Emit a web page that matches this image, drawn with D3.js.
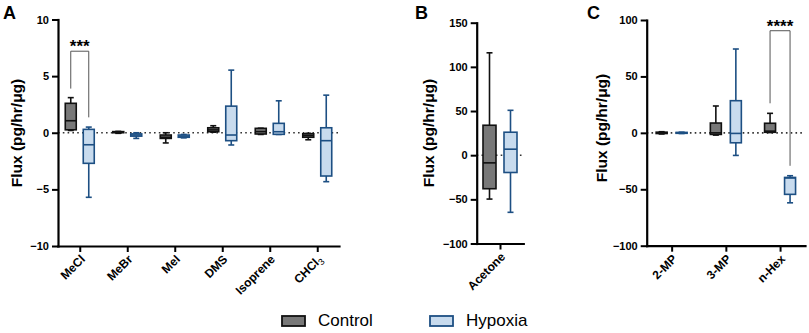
<!DOCTYPE html>
<html>
<head>
<meta charset="utf-8">
<script src="https://cdn.jsdelivr.net/npm/d3@7"></script>
<style>
  body { margin: 0; background: #fff; }
  text { font-family: "Liberation Sans", Arial, sans-serif; }
</style>
</head>
<body>
<svg id="chart" width="809" height="333"></svg>
<script>
// box summaries are [min, q1, median, q3, max]
const catsA = ["MeCl", "MeBr", "MeI", "DMS", "Isoprene", "CHCl3"];
const controlA = [
  [0.2, 0.26, 1.06, 2.6, 3.1],
  [-0.05, 0.0, 0.05, 0.1, 0.12],
  [-0.9, -0.5, -0.4, -0.2, 0.0],
  [0.05, 0.09, 0.25, 0.44, 0.62],
  [-0.15, -0.11, 0.1, 0.39, 0.4],
  [-0.62, -0.4, -0.25, -0.09, -0.05]
];
const hypoxiaA = [
  [-5.7, -2.7, -1.06, 0.3, 0.5],
  [-0.5, -0.3, -0.2, -0.1, 0.0],
  [-0.45, -0.4, -0.3, -0.2, -0.15],
  [-1.08, -0.7, -0.2, 2.35, 5.53],
  [-0.15, -0.14, 0.09, 0.83, 2.82],
  [-4.32, -3.82, -0.7, 0.44, 3.32]
];
const ticksA = [-10, -5, 0, 5, 10];

const catsB = ["Acetone"];
const controlB = [[-49.7, -38, -8.7, 33.9, 115.9]];
const hypoxiaB = [[-64.7, -19.6, 6.8, 26, 50.8]];
const ticksB = [-100, -50, 0, 50, 100, 150];

const catsC = ["2-MP", "3-MP", "n-Hex"];
const controlC = [
  [-1, -0.6, 0, 0.6, 1],
  [-2, -1.4, 0, 8.7, 23.8],
  [0.3, 0.5, 1.5, 8.5, 17.3]
];
const hypoxiaC = [
  [-0.6, -0.4, 0, 0.4, 0.6],
  [-20, -8.8, -0.5, 28.5, 74.3],
  [-62, -54.5, -40, -39.5, -38]
];
const ticksC = [-100, -50, 0, 50, 100];

// significance brackets: [category, control end, top, hypoxia end, label]
const bracketA = ["MeCl", 3.9, 7.2, 1.36, "***"];
const bracketC = ["n-Hex", 26.2, 90.5, -29.2, "****"];

const legendNames = ["Control", "Hypoxia"];

const colors = {
  Control: { fill: "#787878", stroke: "#111" },
  Hypoxia: { fill: "#c8dbee", stroke: "#1d4f83" }
};

const svg = d3.select("#chart");

const panels = [
  { letter: "A", letterX: 3, labelX: 22, labelY: 133, cats: catsA, control: controlA, hypoxia: hypoxiaA,
    domain: [-10, 10], ticks: ticksA, left: 58, right: 339, top: 19.5, bottom: 246, pad: 0.458,
    off: 9, w: 11, bracket: bracketA },
  { letter: "B", letterX: 415, labelX: 434, labelY: 133, cats: catsB, control: controlB, hypoxia: hypoxiaB,
    domain: [-100, 150], ticks: ticksB, left: 476.7, right: 523.3, top: 22.7, bottom: 243.5, pad: 0.5,
    off: 10.5, w: 13, bracket: null },
  { letter: "C", letterX: 587, labelX: 606.5, labelY: 128, cats: catsC, control: controlC, hypoxia: hypoxiaC,
    domain: [-100, 100], ticks: ticksC, left: 646.7, right: 805, top: 20, bottom: 245.7, pad: 0.46,
    off: 10, w: 11, bracket: bracketC }
];

panels.forEach(drawPanel);

function drawPanel(p) {
  const y = d3.scaleLinear().domain(p.domain).range([p.bottom, p.top]);
  const x = d3.scalePoint().domain(p.cats).range([p.left, p.right]).padding(p.pad);
  const g = svg.append("g");

  // dotted zero line
  g.append("line")
    .attr("x1", p.left).attr("x2", p.right - 1)
    .attr("y1", y(0)).attr("y2", y(0))
    .attr("stroke", "#333").attr("stroke-width", 1.6)
    .attr("stroke-dasharray", "1.6,3.2");

  // boxes
  const series = [
    { name: "Control", data: p.control, dx: -p.off },
    { name: "Hypoxia", data: p.hypoxia, dx: p.off }
  ];
  series.forEach(s => {
    const c = colors[s.name];
    s.data.forEach((v, i) => {
      const cx = x(p.cats[i]) + s.dx;
      const bg = g.append("g").attr("stroke", c.stroke).attr("stroke-width", 1.6);
      bg.append("line").attr("x1", cx).attr("x2", cx).attr("y1", y(v[0])).attr("y2", y(v[4]));
      bg.append("line").attr("x1", cx - 3).attr("x2", cx + 3).attr("y1", y(v[0])).attr("y2", y(v[0]));
      bg.append("line").attr("x1", cx - 3).attr("x2", cx + 3).attr("y1", y(v[4])).attr("y2", y(v[4]));
      bg.append("rect")
        .attr("x", cx - p.w / 2).attr("width", p.w)
        .attr("y", y(v[3])).attr("height", Math.max(0.5, y(v[1]) - y(v[3])))
        .attr("fill", c.fill);
      bg.append("line").attr("x1", cx - p.w / 2).attr("x2", cx + p.w / 2).attr("y1", y(v[2])).attr("y2", y(v[2]));
    });
  });

  // axes
  const ya = g.append("g").attr("transform", `translate(${p.left},0)`)
    .call(d3.axisLeft(y).tickValues(p.ticks).tickSize(6).tickPadding(3).tickSizeOuter(0));
  const xa = g.append("g").attr("transform", `translate(0,${p.bottom})`)
    .call(d3.axisBottom(x).tickSize(6).tickSizeOuter(0).tickFormat(""));
  [ya, xa].forEach(a => {
    a.select(".domain").attr("stroke", "#000").attr("stroke-width", 2.2).attr("stroke-linecap", "square");
    a.selectAll(".tick line").attr("stroke", "#000").attr("stroke-width", 2);
  });
  ya.selectAll(".tick text").attr("font-size", 11).attr("font-weight", "bold").attr("fill", "#000")
    .style("font-family", "'Liberation Sans', Arial, sans-serif");

  // rotated category labels
  p.cats.forEach(cat => {
    const t = g.append("text")
      .attr("transform", `translate(${x(cat) + 6},${p.bottom + 14}) rotate(-45)`)
      .attr("text-anchor", "end")
      .attr("font-size", 12).attr("font-weight", "bold");
    if (cat === "CHCl3") {
      t.append("tspan").text("CHCl");
      t.append("tspan").text("3").attr("font-size", 9).attr("font-weight", "normal").attr("dy", 3);
    } else {
      t.text(cat);
    }
  });

  // y label
  g.append("text")
    .attr("transform", `translate(${p.labelX},${p.labelY}) rotate(-90)`)
    .attr("text-anchor", "middle")
    .attr("font-size", 15.5).attr("font-weight", "bold")
    .text("Flux (pg/hr/\u03bcg)");

  // panel letter
  g.append("text")
    .attr("x", p.letterX).attr("y", 18.5)
    .attr("font-size", 18).attr("font-weight", "bold")
    .text(p.letter);

  // significance bracket
  if (p.bracket) {
    const [cat, yc, yt, yh, label] = p.bracket;
    const x1 = x(cat) - p.off, x2 = x(cat) + p.off;
    g.append("path")
      .attr("d", `M${x1},${y(yc)}V${y(yt)}H${x2}V${y(yh)}`)
      .attr("fill", "none").attr("stroke", "#555").attr("stroke-width", 1);
    g.append("text")
      .attr("x", (x1 + x2) / 2).attr("y", y(yt) + 1)
      .attr("text-anchor", "middle")
      .attr("font-size", 17).attr("font-weight", "bold")
      .text(label);
  }
}

// legend
const legendX = d3.scaleOrdinal().domain(legendNames).range([282, 430]);
const lg = svg.append("g").selectAll("g").data(legendNames).enter().append("g")
  .attr("transform", d => `translate(${legendX(d)},316)`);
lg.append("rect")
  .attr("width", 23).attr("height", 10)
  .attr("fill", d => colors[d].fill)
  .attr("stroke", d => colors[d].stroke).attr("stroke-width", 1.8);
lg.append("text")
  .attr("x", 36).attr("y", 10)
  .attr("font-size", 17)
  .text(d => d);
</script>
</body>
</html>
